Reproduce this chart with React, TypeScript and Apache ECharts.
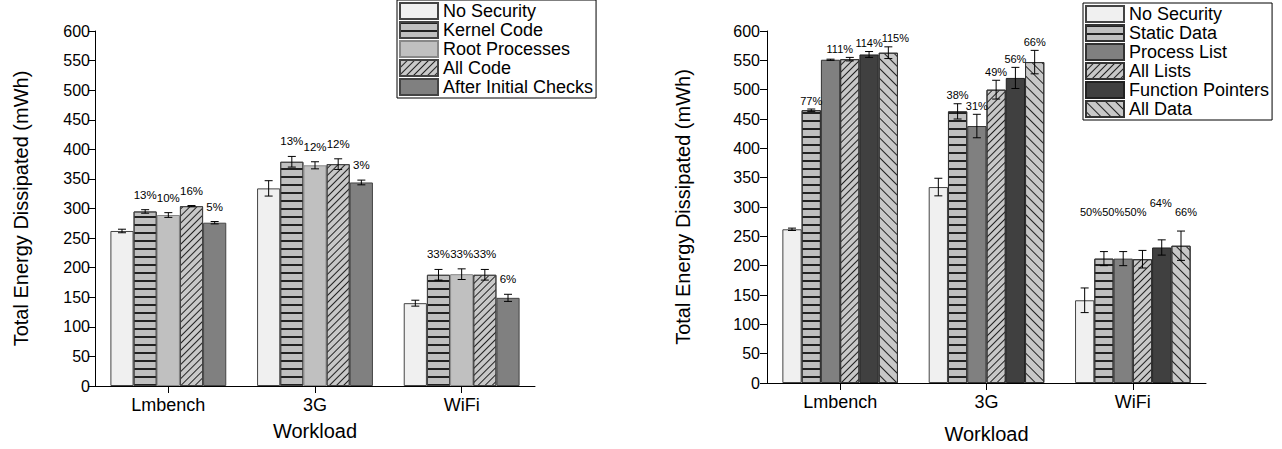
import React, { useEffect, useRef } from 'react';
import * as echarts from 'echarts';

const categories = ['Lmbench', '3G', 'WiFi'];
const yTicksMax = 600;
const yTickStep = 50;

const leftNames = ['No Security', 'Kernel Code', 'Root Processes', 'All Code', 'After Initial Checks'];
const leftValues = [
  [262, 334, 140],
  [295, 379, 188],
  [289, 373, 189],
  [304, 375, 188],
  [276, 344, 149],
];
const leftErrors = [
  [3, 13, 5],
  [3, 9, 9],
  [4, 6, 9],
  [1, 9, 9],
  [2, 4, 6],
];
const leftLabels = [
  ['', '', ''],
  ['13%', '13%', '33%'],
  ['10%', '12%', '33%'],
  ['16%', '12%', '33%'],
  ['5%', '3%', '6%'],
];

const rightNames = ['No Security', 'Static Data', 'Process List', 'All Lists', 'Function Pointers', 'All Data'];
const rightValues = [
  [262, 334, 141],
  [465, 463, 212],
  [551, 438, 212],
  [552, 500, 211],
  [560, 520, 231],
  [563, 547, 234],
];
const rightErrors = [
  [2, 15, 21],
  [2, 13, 12],
  [1, 20, 12],
  [3, 16, 15],
  [5, 18, 13],
  [10, 20, 25],
];
const rightLabels = [
  ['', '', ''],
  ['77%', '38%', '50%'],
  ['', '31%', '50%'],
  ['111%', '49%', '50%'],
  ['114%', '56%', '64%'],
  ['115%', '66%', '66%'],
];

// label placement tweaks (pixels), layout only
const leftLabelDx = leftNames.map(() => [0, 0, 0]);
const leftLabelLift = leftNames.map(() => [9, 9, 9]);
const rightLabelDx = [
  [0, 0, 0],
  [0, 0, -13],
  [0, 0, -10],
  [-10, 0, -7],
  [0, 0, -1],
  [7, 0, 5],
];
const rightLabelLift = [
  [3, 3, 3],
  [3, 3, 34],
  [3, 3, 34],
  [3, 3, 33],
  [3, 3, 31],
  [3, 3, 14],
];

const FONT = 'Liberation Sans, Arial, sans-serif';
const CAT_GAP = 0.21;

const hLines = { symbol: 'rect', symbolSize: 1, color: '#222', dashArrayX: [1, 0], dashArrayY: [1.3, 5.7], rotation: 0 };
const slash = { symbol: 'rect', symbolSize: 1, color: '#222', dashArrayX: [1, 0], dashArrayY: [1, 4], rotation: -Math.PI / 4 };
const backslash = { symbol: 'rect', symbolSize: 1, color: '#222', dashArrayX: [1, 0], dashArrayY: [1, 6], rotation: Math.PI / 4 };

const leftStyles: any[] = [
  { color: '#f0f0f0', borderColor: '#444', borderWidth: 1 },
  { color: '#c0c0c0', borderColor: '#444', borderWidth: 1, decal: hLines },
  { color: '#c0c0c0', borderColor: '#888', borderWidth: 1 },
  { color: '#c8c8c8', borderColor: '#444', borderWidth: 1, decal: slash },
  { color: '#808080', borderColor: '#444', borderWidth: 1 },
];
const rightStyles: any[] = [
  { color: '#f0f0f0', borderColor: '#444', borderWidth: 1 },
  { color: '#c0c0c0', borderColor: '#333', borderWidth: 1, decal: hLines },
  { color: '#808080', borderColor: '#333', borderWidth: 1 },
  { color: '#c8c8c8', borderColor: '#333', borderWidth: 1, decal: slash },
  { color: '#404040', borderColor: '#222', borderWidth: 1 },
  { color: '#c8c8c8', borderColor: '#333', borderWidth: 1, decal: backslash },
];

function errSeries(
  grid: number, idx: number, n: number, values: number[], errors: number[], labels: string[],
  dxs: number[], lifts: number[], fontSize: number,
) {
  const data = values.map((v, c) => [c, v, errors[c]]);
  return {
    type: 'custom',
    xAxisIndex: grid,
    yAxisIndex: grid,
    silent: true,
    z: 10,
    data,
    renderItem: (params: any, api: any) => {
      const c = api.value(0);
      const v = api.value(1);
      const e = api.value(2);
      const k = params.dataIndex;
      const label = labels[k];
      const center = api.coord([c, v]);
      const band = api.size([1, 0])[0];
      const groupW = band * (1 - CAT_GAP);
      const bw = groupW / n;
      const x = center[0] - groupW / 2 + (idx + 0.5) * bw;
      const yTop = api.coord([c, v + e])[1];
      const yBot = api.coord([c, v - e])[1];
      const cap = 4;
      const style = { stroke: '#000', lineWidth: 1 };
      const children: any[] = [
        { type: 'line', shape: { x1: x, y1: yTop, x2: x, y2: yBot }, style },
        { type: 'line', shape: { x1: x - cap, y1: yTop, x2: x + cap, y2: yTop }, style },
        { type: 'line', shape: { x1: x - cap, y1: yBot, x2: x + cap, y2: yBot }, style },
      ];
      if (label) {
        children.push({
          type: 'text',
          x: x + dxs[k],
          y: yTop - lifts[k],
          style: {
            text: label,
            fill: '#000',
            fontSize,
            fontFamily: FONT,
            align: 'center',
            verticalAlign: 'bottom',
            textAlign: 'center',
            textVerticalAlign: 'bottom',
          },
        });
      }
      return { type: 'group', children };
    },
  };
}

function yAxisOpt(grid: number, nameGap: number, margin: number) {
  return {
    type: 'value',
    gridIndex: grid,
    min: 0,
    max: yTicksMax,
    interval: yTickStep,
    name: 'Total Energy Dissipated (mWh)',
    nameLocation: 'middle',
    nameGap,
    nameTextStyle: { fontSize: 20, color: '#000', fontFamily: FONT },
    axisLine: { show: true, lineStyle: { color: '#000', width: 1 } },
    axisTick: { show: true, length: 7, lineStyle: { color: '#000' } },
    axisLabel: { fontSize: 16, color: '#000', margin, fontFamily: FONT },
    splitLine: { show: false },
  };
}

function xAxisOpt(grid: number, nameGap: number) {
  return {
    type: 'category',
    gridIndex: grid,
    data: categories,
    name: 'Workload',
    nameLocation: 'middle',
    nameGap,
    nameTextStyle: { fontSize: 20, color: '#000', fontFamily: FONT },
    axisLine: { show: true, lineStyle: { color: '#000', width: 1 } },
    axisTick: { show: true, alignWithLabel: true, length: 7, lineStyle: { color: '#000' } },
    axisLabel: { fontSize: 18, color: '#000', margin: 10, fontFamily: FONT },
    splitLine: { show: false },
  };
}

function legendOpt(names: string[], left: number, top: number) {
  return {
    data: names,
    left,
    top,
    orient: 'vertical',
    icon: 'rect',
    itemWidth: 38,
    itemHeight: 16,
    itemGap: 1,
    selectedMode: false,
    borderColor: '#000',
    borderWidth: 1,
    padding: [2, 3, 2, 2],
    textStyle: { fontSize: 18, color: '#000', fontFamily: FONT },
  };
}

export default function App() {
  const ref = useRef<HTMLDivElement>(null);
  useEffect(() => {
    if (!ref.current) return;
    const chart = echarts.init(ref.current, undefined, { renderer: 'svg' });
    const series: any[] = [];
    leftNames.forEach((name, i) => {
      series.push({
        type: 'bar',
        name,
        xAxisIndex: 0,
        yAxisIndex: 0,
        data: leftValues[i],
        barGap: '0%',
        barCategoryGap: `${CAT_GAP * 100}%`,
        itemStyle: leftStyles[i],
        emphasis: { disabled: true },
      });
    });
    rightNames.forEach((name, i) => {
      series.push({
        type: 'bar',
        name,
        xAxisIndex: 1,
        yAxisIndex: 1,
        data: rightValues[i],
        barGap: '0%',
        barCategoryGap: `${CAT_GAP * 100}%`,
        itemStyle: rightStyles[i],
        emphasis: { disabled: true },
      });
    });
    leftNames.forEach((_, i) => {
      series.push(errSeries(0, i, leftNames.length, leftValues[i], leftErrors[i], leftLabels[i], leftLabelDx[i], leftLabelLift[i], 11.5));
    });
    rightNames.forEach((_, i) => {
      series.push(errSeries(1, i, rightNames.length, rightValues[i], rightErrors[i], rightLabels[i], rightLabelDx[i], rightLabelLift[i], 11));
    });
    chart.setOption({
      animation: false,
      backgroundColor: '#fff',
      textStyle: { fontFamily: FONT },
      grid: [
        { left: 95, top: 31, width: 440, height: 355 },
        { left: 767, top: 31, width: 439, height: 355 },
      ],
      xAxis: [xAxisOpt(0, 35), xAxisOpt(1, 41)],
      yAxis: [yAxisOpt(0, 64, 5), yAxisOpt(1, 74, 7)],
      legend: [legendOpt(leftNames, 397, 0), legendOpt(rightNames, 1083, 3)],
      series,
    });
    return () => chart.dispose();
  }, []);
  return (
    <div
      ref={ref}
      style={{ position: 'fixed', left: 0, top: 0, width: 1282, height: 449 }}
    />
  );
}
